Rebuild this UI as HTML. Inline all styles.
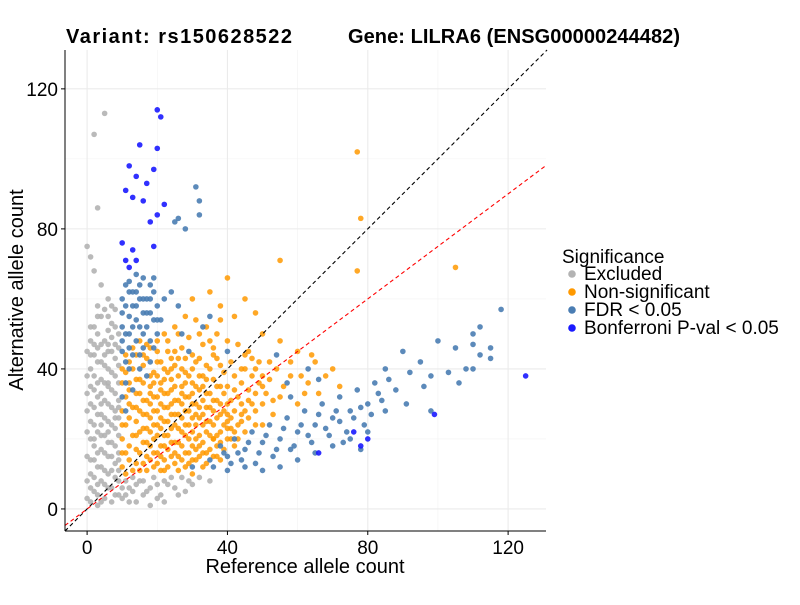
<!DOCTYPE html>
<html><head><meta charset="utf-8"><style>
body{margin:0;background:#fff;font-family:"Liberation Sans",sans-serif}
svg text{font-family:"Liberation Sans",sans-serif}
</style></head><body>
<svg id="chart" width="800" height="600" xmlns="http://www.w3.org/2000/svg"></svg>
<script>
const xTicks=[0,40,80,120];
const yTicks=[0,40,80,120];
const excluded=[[5,113],[2,107],[3,86],[0,75],[1,72],[2,68],[4,64],[6,60],[7,58],[1,2],[2,5],[3,1],[4,8],[5,3],[6,6],[7,2],[8,9],[9,4],[1,10],[2,14],[3,12],[4,17],[5,11],[6,15],[7,19],[8,13],[9,16],[1,20],[2,24],[3,22],[4,27],[5,21],[6,25],[7,29],[8,23],[9,26],[1,30],[2,34],[3,32],[4,37],[5,31],[6,35],[7,39],[8,33],[9,36],[1,40],[2,44],[3,42],[4,47],[5,41],[6,45],[7,49],[8,43],[9,46],[2,52],[4,55],[6,51],[8,57],[3,58],[5,48],[0,3],[0,15],[0,28],[0,38],[1,6],[3,7],[5,7],[7,11],[9,11],[2,18],[4,21],[6,19],[8,18],[3,27],[5,26],[7,24],[9,21],[2,29],[6,30],[8,28],[4,33],[6,40],[8,38],[1,48],[3,50],[7,45],[9,31],[10,3],[12,6],[14,2],[15,8],[17,5],[19,9],[21,4],[23,7],[25,6],[27,9],[29,8],[32,9],[18,1],[13,9],[11,8],[16,4],[20,7],[24,9],[22,2],[26,4],
[0,8],[0,22],[0,33],[0,45],[1,14],[1,25],[1,35],[1,44],[2,9],[2,20],[2,38],[2,47],[3,4],[3,16],[3,36],[3,46],[4,2],[4,12],[4,24],[4,30],[4,42],[5,16],[5,36],[5,44],[6,10],[6,22],[6,36],[6,47],[7,6],[7,15],[7,34],[7,53],[8,4],[8,26],[8,47],[8,52],[9,8],[9,14],[9,29],[9,41],[10,6],[11,4],[12,2],[13,5],[14,7],[16,8],[18,6],[20,3],[22,8],[28,5],[30,7],[35,8],[3,55],[5,57],[6,55],[9,50],[1,52]];
const nonsig=[[10,12],[13,11],[16,13],[19,12],[22,11],[25,13],[28,12],[31,14],[34,13],[37,15],[11,16],[14,17],[17,15],[20,16],[23,17],[26,15],[29,16],[32,18],[35,17],[38,19],[41,20],[10,20],[13,21],[16,19],[19,20],[22,21],[25,19],[28,21],[31,20],[34,22],[37,21],[40,23],[43,24],[11,24],[14,25],[17,23],[20,24],[23,25],[26,23],[29,24],[32,26],[35,25],[38,27],[41,26],[44,27],[10,28],[13,29],[16,27],[19,28],[22,29],[25,27],[28,28],[31,30],[34,29],[37,31],[40,30],[46,31],[11,32],[14,33],[17,31],[20,32],[23,33],[26,31],[29,32],[32,34],[35,33],[38,35],[42,34],[12,36],[15,37],[18,35],[21,36],[24,37],[27,35],[30,36],[33,38],[36,37],[39,39],[13,40],[16,41],[19,39],[22,40],[25,41],[28,39],[31,42],[34,41],[37,43],[16,44],[20,45],[24,43],[27,46],[30,44],[33,47],[12,14],[15,22],[18,26],[21,18],[24,30],[27,22],[30,18],[33,24],[36,28],[39,24],[12,34],[15,28],[18,38],[21,42],[24,34],[27,40],[30,26],[33,16],[36,20],[39,33],[77,102],[78,83],[77,68],[105,69],[55,71],[40,66],[45,60],[48,56],[35,62],[38,58],[30,60],[42,55],[50,50],[55,48],[60,45],[65,42],[70,40],[52,42],[58,38],[63,36],[45,44],[48,40],[42,38],[50,35],[55,32],[60,30],[66,33],[72,35],[44,30],[48,28],[53,27],[40,25],[45,22],[50,24],[36,20],[42,18],[38,14],[33,12],[30,10],[35,48],[25,52],[28,55],[32,50],[22,50],[18,46],[15,48],
[11,10],[12,18],[12,26],[12,30],[12,42],[14,13],[14,21],[14,29],[14,37],[14,44],[15,11],[15,16],[15,33],[16,23],[16,31],[16,36],[17,11],[17,19],[17,27],[17,43],[18,14],[18,18],[18,22],[18,30],[18,33],[19,16],[19,24],[19,32],[19,36],[20,13],[20,21],[20,28],[20,38],[20,42],[21,11],[21,15],[21,23],[21,26],[21,30],[21,34],[22,14],[22,18],[22,25],[22,33],[22,37],[23,12],[23,21],[23,29],[23,39],[23,45],[24,15],[24,19],[24,23],[24,27],[24,40],[25,16],[25,24],[25,31],[25,35],[25,45],[26,11],[26,19],[26,27],[26,38],[26,43],[27,14],[27,18],[27,26],[27,30],[27,33],[28,16],[28,24],[28,32],[28,36],[28,43],[29,13],[29,20],[29,28],[29,38],[30,14],[30,22],[30,30],[30,33],[30,40],[31,17],[31,24],[31,27],[31,35],[32,15],[32,21],[32,29],[32,38],[32,43],[33,19],[33,27],[33,31],[33,35],[34,16],[34,25],[34,33],[34,37],[35,21],[35,29],[35,40],[36,15],[36,24],[36,31],[36,44],[37,18],[37,26],[37,35],[38,22],[38,30],[38,41],[39,17],[39,28],[40,20],[40,27],[40,35],[41,23],[41,31],[42,22],[42,28],[43,20],[43,32],[44,25],[44,36],[45,28],[45,40],[46,26],[46,34],[47,30],[47,38],[48,24],[48,33],[49,36],[49,42],[50,30],[50,38],[51,33],[52,37],[53,31],[54,40],[56,35],[58,42],[61,38],[62,33],[64,44],[68,38],[11,39],[11,44],[13,46],[17,47],[20,48],[23,48],[26,50],[29,49],[31,54],[34,52],[37,50],[40,48],[43,47],[46,45],[38,54],[36,46],[41,42],[44,40],[47,43],[10,16],[10,24],[10,36],[10,40]];
const fdr=[[10,32],[11,36],[12,40],[13,44],[14,48],[15,52],[16,56],[17,60],[18,64],[19,66],[10,45],[11,50],[12,55],[13,58],[14,62],[16,66],[17,38],[18,42],[19,46],[20,50],[11,28],[13,34],[15,40],[20,58],[21,54],[16,46],[12,62],[14,67],[10,60],[18,56],[25,82],[26,83],[32,84],[32,88],[31,92],[28,80],[22,60],[24,62],[26,58],[27,50],[30,12],[35,14],[40,15],[45,17],[50,19],[55,20],[60,22],[65,24],[70,26],[75,28],[80,30],[38,18],[42,20],[47,22],[52,24],[57,26],[62,28],[67,30],[72,32],[77,34],[82,36],[44,14],[49,16],[54,17],[59,18],[64,19],[69,21],[74,22],[79,24],[85,40],[90,45],[95,42],[100,48],[105,46],[110,50],[112,44],[115,43],[118,57],[112,52],[108,40],[103,39],[98,38],[92,39],[88,34],[84,31],[91,30],[96,35],[85,28],[75,20],[70,18],[65,16],[60,14],[55,12],[50,11],[45,12],[40,11],[78,17],[80,22],[72,25],[58,32],[63,40],[66,37],[54,44],[57,36],[110,47],[115,46],[98,28],[106,36],[110,40],[35,55],[33,52],[40,45],[29,45],
[10,52],[10,56],[11,42],[11,58],[11,64],[12,46],[12,50],[13,52],[13,62],[14,54],[14,58],[15,44],[15,60],[15,64],[16,50],[16,60],[17,52],[17,56],[18,48],[18,60],[19,54],[19,62],[20,54],[12,65],[10,48],[43,16],[46,19],[48,13],[51,21],[53,15],[56,23],[58,17],[61,24],[63,21],[66,27],[68,23],[71,28],[73,19],[76,26],[78,29],[81,27],[83,33],[86,37],[36,12],[39,16],[41,13]];
const bonf=[[20,114],[21,112],[15,104],[20,103],[12,98],[19,97],[14,95],[17,93],[11,91],[13,89],[16,88],[22,87],[20,84],[18,82],[10,76],[13,74],[19,75],[11,71],[12,69],[14,71],[125,38],[99,27],[80,20],[78,18],[66,16],[76,22]];
const redSlope=0.75;

const NS="http://www.w3.org/2000/svg";
const svg=document.getElementById('chart');
const L=65,R=546,T=50,B=531;
const xMin=-6.3,xMax=130.8,yMin=-6.3,yMax=131.1;
const sx=v=>L+(v-xMin)/(xMax-xMin)*(R-L);
const sy=v=>B-(v-yMin)/(yMax-yMin)*(B-T);
function mk(t,a){const e=document.createElementNS(NS,t);for(const k in a)e.setAttribute(k,a[k]);svg.appendChild(e);return e;}
[20,60,100].forEach(v=>{
 let g=mk('line',{x1:sx(v),x2:sx(v),y1:T,y2:B,stroke:'#f2f2f2','stroke-width':0.6});
 
 g=mk('line',{x1:L,x2:R,y1:sy(v),y2:sy(v),stroke:'#f2f2f2','stroke-width':0.6});
 
});
xTicks.forEach(v=>{
 const g=mk('line',{x1:sx(v),x2:sx(v),y1:T,y2:B,stroke:'#ebebeb','stroke-width':1.1});
 
});
yTicks.forEach(v=>{
 const g=mk('line',{x1:L,x2:R,y1:sy(v),y2:sy(v),stroke:'#ebebeb','stroke-width':1.1});
 
});
function pts(arr,col,name,op){
 arr.forEach(p=>{
  const c=mk('circle',{cx:sx(p[0]),cy:sy(p[1]),r:2.8,fill:col,'fill-opacity':op});
  
  
 });
}
pts(excluded,'#b3b3b3','point-excluded',0.9);
pts(nonsig,'#ff9900','point-non-significant',0.85);
pts(fdr,'#4a7db3','point-fdr',0.9);
pts(bonf,'#1a1aff','point-bonferroni',0.9);
let d=mk('line',{x1:sx(xMin),y1:sy(xMin),x2:sx(yMax),y2:sy(yMax),stroke:'#000','stroke-width':1.1,'stroke-dasharray':'4,3'});

d=mk('line',{x1:sx(xMin),y1:sy(xMin*redSlope),x2:sx(xMax),y2:sy(xMax*redSlope),stroke:'#ff0000','stroke-width':1.1,'stroke-dasharray':'4,3'});

d=mk('line',{x1:L,x2:L,y1:T,y2:B,stroke:'#000','stroke-width':1});

d=mk('line',{x1:L,x2:R,y1:B,y2:B,stroke:'#000','stroke-width':1});

xTicks.forEach(v=>{
 let t=mk('line',{x1:sx(v),x2:sx(v),y1:B,y2:B+4,stroke:'#000'});
 
 t=mk('text',{x:sx(v),y:B+23,'text-anchor':'middle','font-size':19,fill:'#000'});t.textContent=v;
 
});
yTicks.forEach(v=>{
 let t=mk('line',{x1:L-4,x2:L,y1:sy(v),y2:sy(v),stroke:'#000'});
 
 t=mk('text',{x:L-7,y:sy(v)+7,'text-anchor':'end','font-size':19,fill:'#000'});t.textContent=v;
 
});
let t=mk('text',{x:305,y:573,'text-anchor':'middle','font-size':20});t.textContent='Reference allele count';

t=mk('text',{x:23,y:290,'text-anchor':'middle','font-size':20,transform:'rotate(-90 23 290)'});t.textContent='Alternative allele count';

t=mk('text',{x:66,y:43,'font-size':20,'font-weight':'bold',textLength:226,lengthAdjust:'spacing'});t.textContent='Variant: rs150628522';

t=mk('text',{x:348,y:43,'font-size':20,'font-weight':'bold',textLength:332,lengthAdjust:'spacing'});t.textContent='Gene: LILRA6 (ENSG00000244482)';

t=mk('text',{x:562,y:263,'font-size':19});t.textContent='Significance';

const legItems=[['Excluded','#b3b3b3'],['Non-significant','#ff9900'],['FDR < 0.05','#4a7db3'],['Bonferroni P-val < 0.05','#1a1aff']];
legItems.forEach((it,i)=>{
 const y=274+i*18;
 let c=mk('circle',{cx:572,cy:y,r:3.8,fill:it[1]});
 
 c=mk('text',{x:584,y:y+6,'font-size':19});c.textContent=it[0];
 
});
</script>
</body></html>
